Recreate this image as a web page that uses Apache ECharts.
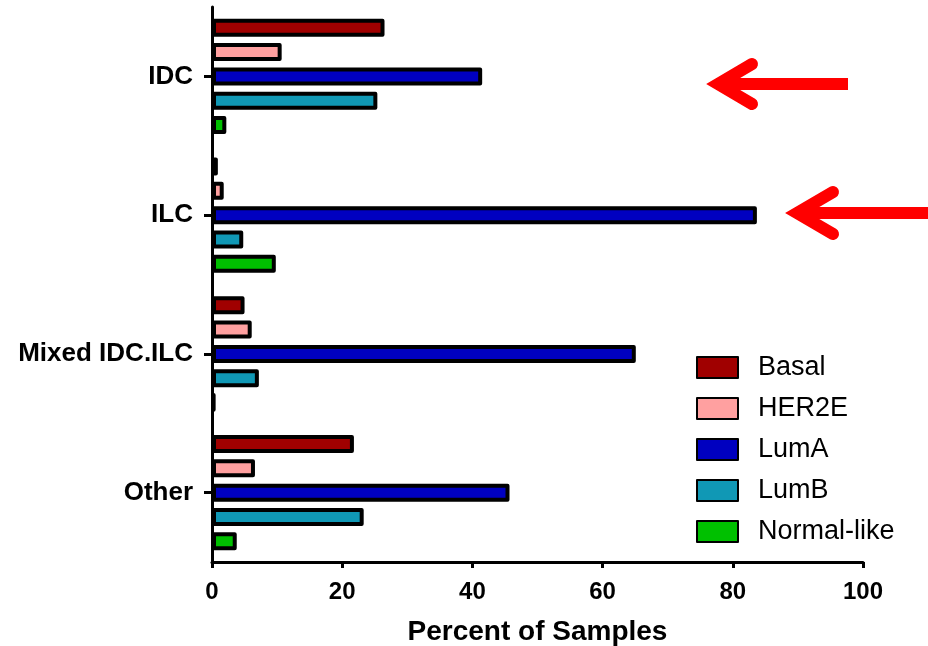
<!DOCTYPE html>
<html>
<head>
<meta charset="utf-8">
<script src="https://cdn.jsdelivr.net/npm/echarts@6/dist/echarts.min.js"></script>
<style>
  html, body { margin: 0; padding: 0; background: #fff; }
  #chart { width: 928px; height: 646px; }
</style>
</head>
<body>
<div id="chart"></div>
<script>
// Histology groups (top to bottom) and subtype percentages
const categories = ['IDC', 'ILC', 'Mixed IDC.ILC', 'Other'];
const xTicks = [0, 20, 40, 60, 80, 100];

const basal  = [26.5, 0.9, 5.0, 21.8];
const her2e  = [10.7, 1.8, 6.1, 6.6];
const lumA   = [41.5, 83.7, 65.1, 45.7];
const lumB   = [25.4, 4.8, 7.2, 23.3];
const normal = [2.2, 9.8, 0.5, 3.8];

const seriesNames  = ['Basal', 'HER2E', 'LumA', 'LumB', 'Normal-like'];
const seriesValues = [basal, her2e, lumA, lumB, normal];
const seriesColors = ['#A00000', '#FFA0A0', '#0000C0', '#1098B5', '#00C000'];

const FONT = '"Liberation Sans", Arial, sans-serif';

const chart = echarts.init(document.getElementById('chart'));

const series = seriesNames.map((name, i) => ({
  name: name,
  type: 'bar',
  data: seriesValues[i],
  barWidth: 18,
  barGap: '35%',
  itemStyle: {
    color: seriesColors[i],
    borderColor: '#000',
    borderWidth: 4,
    borderJoin: 'round'
  },
  emphasis: { disabled: true },
  animation: false
}));

// Red pointer arrows drawn as annotation shapes
function arrow(tipX, y, armX, armDy, tailX) {
  return [
    {
      type: 'line',
      shape: { x1: tipX + 4, y1: y, x2: tailX, y2: y },
      style: { stroke: '#FF0000', lineWidth: 12, lineCap: 'butt' },
      z: 100
    },
    {
      type: 'polyline',
      shape: { points: [[armX, y - armDy], [tipX, y], [armX, y + armDy]] },
      style: { stroke: '#FF0000', fill: null, lineWidth: 12, lineCap: 'round', lineJoin: 'miter' },
      z: 100
    }
  ];
}

chart.setOption({
  backgroundColor: '#fff',
  animation: false,
  grid: { left: 212, right: 65, top: 7, bottom: 84, containLabel: false, outerBoundsMode: 'none' },
  xAxis: {
    type: 'value',
    min: xTicks[0],
    max: xTicks[xTicks.length - 1],
    interval: xTicks[1] - xTicks[0],
    name: 'Percent of Samples',
    nameLocation: 'middle',
    nameGap: 56,
    nameTextStyle: { fontFamily: FONT, fontWeight: 'bold', fontSize: 28, color: '#000' },
    axisLine: { show: true, lineStyle: { color: '#000', width: 3 } },
    axisTick: { show: true, length: 6, lineStyle: { color: '#000', width: 3 } },
    axisLabel: { fontFamily: FONT, fontWeight: 'bold', fontSize: 24, color: '#000', margin: 18 },
    splitLine: { show: false }
  },
  yAxis: {
    type: 'category',
    data: categories,
    inverse: true,
    axisLine: { show: true, lineStyle: { color: '#000', width: 3 } },
    axisTick: { show: true, alignWithLabel: true, length: 8, lineStyle: { color: '#000', width: 3 } },
    axisLabel: { fontFamily: FONT, fontWeight: 'bold', fontSize: 26, color: '#000', margin: 19 },
    splitLine: { show: false }
  },
  legend: {
    orient: 'vertical',
    left: 696,
    top: 354,
    padding: 0,
    itemGap: 14,
    itemWidth: 41,
    itemHeight: 21,
    icon: 'rect',
    data: seriesNames,
    textStyle: { fontFamily: FONT, fontSize: 27, color: '#000', padding: [0, 0, 0, 15] }
  },
  graphic: [].concat(
    arrow(718, 84, 752, 20, 848),
    arrow(797, 213, 833, 21, 928)
  ),
  series: series
});
</script>
</body>
</html>
